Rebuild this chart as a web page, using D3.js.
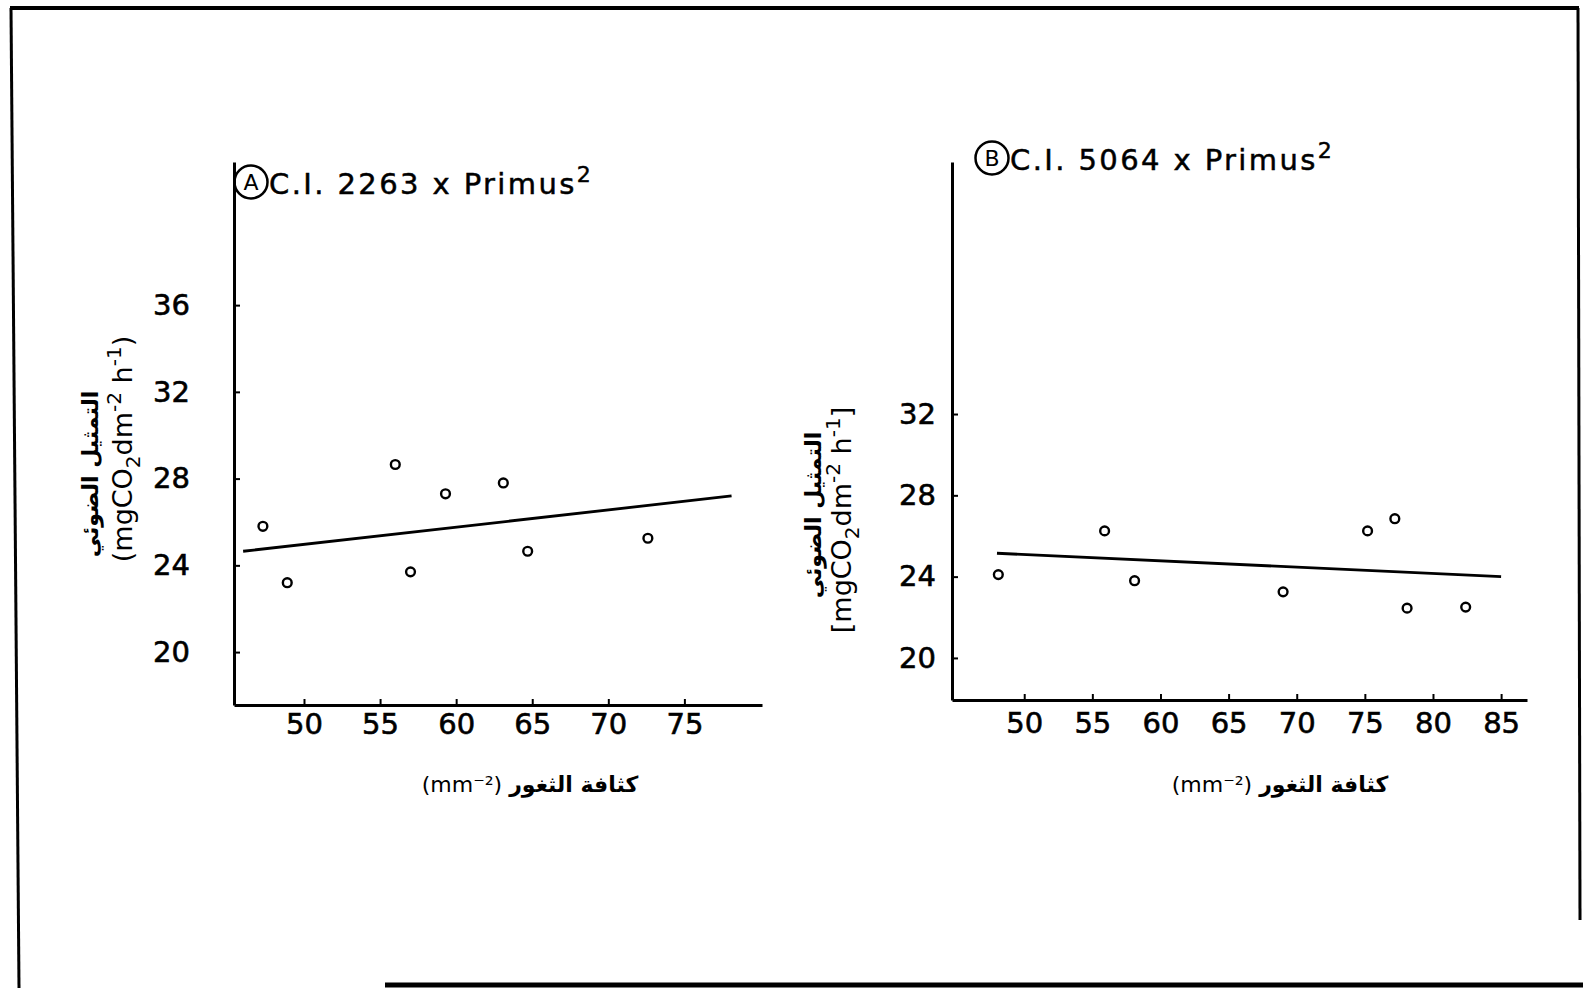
<!DOCTYPE html>
<html><head><meta charset="utf-8">
<script src="https://cdn.jsdelivr.net/npm/d3@7"></script>
<style>
html,body{margin:0;padding:0;background:#fff;}
svg{display:block;}
text{font-family:"DejaVu Sans",sans-serif;fill:#000;}
</style></head>
<body>
<svg id="chart" width="1583" height="988"></svg>
<script>
// ---- Panel A data ----
const titleA = "C.I. 2263 x Primus";
const xTicksA = [50, 55, 60, 65, 70, 75];
const yTicksA = [20, 24, 28, 32, 36];
const xA = [47.3, 48.9, 56.0, 57.0, 59.3, 63.1, 64.7, 72.6];
const yA = [25.8, 23.2, 28.65, 23.7, 27.3, 27.8, 24.65, 25.25];
const fitXA = [46.0, 78.1];
const fitYA = [24.65, 27.2];

// ---- Panel B data ----
const titleB = "C.I. 5064 x Primus";
const xTicksB = [50, 55, 60, 65, 70, 75, 80, 85];
const yTicksB = [20, 24, 28, 32];
const xB = [48.1, 55.9, 58.1, 69.0, 75.2, 77.2, 78.1, 82.4];
const yB = [24.1, 26.25, 23.8, 23.25, 26.25, 26.85, 22.45, 22.5];
const fitXB = [48.0, 85.0];
const fitYB = [25.15, 24.0];

// ---- Labels ----
const yLabelAr = "التمثيل الضوئي";
const xLabelAr = "كثافة الثغور";
const xLabelUnit = "(mm⁻²)";

const svg = d3.select("#chart");

// frame
const frame = svg.append("g").attr("fill","none").attr("stroke","#000");
frame.append("line").attr("x1",10).attr("y1",8).attr("x2",1579).attr("y2",8).attr("stroke-width",4);
frame.append("line").attr("x1",11).attr("y1",8).attr("x2",19).attr("y2",988).attr("stroke-width",3);
frame.append("line").attr("x1",1578).attr("y1",8).attr("x2",1580).attr("y2",920).attr("stroke-width",3);
frame.append("line").attr("x1",385).attr("y1",985).attr("x2",1583).attr("y2",985).attr("stroke-width",5);

function panel(cfg){
  const g = svg.append("g");
  const x = d3.scaleLinear().domain(cfg.xDom).range([cfg.left, cfg.right]);
  const y = d3.scaleLinear().domain(cfg.yDom).range([cfg.bottom, cfg.top]);

  // axes
  const ax = g.append("g").attr("transform",`translate(0,${cfg.bottom})`)
    .call(d3.axisBottom(x).tickValues(cfg.xTicks).tickSizeInner(-6).tickSizeOuter(0).tickPadding(cfg.xPad));
  const ay = g.append("g").attr("transform",`translate(${cfg.left},0)`)
    .call(d3.axisLeft(y).tickValues(cfg.yTicks).tickSizeInner(-6).tickSizeOuter(0).tickPadding(cfg.yPad));
  [ax, ay].forEach(a=>{
    a.select(".domain").attr("stroke","#000").attr("stroke-width",3);
    a.selectAll(".tick line").attr("stroke","#000").attr("stroke-width",2);
    a.selectAll(".tick text").attr("font-size",29).attr("fill","#000").attr("font-family","DejaVu Sans")
      .attr("stroke","#000").attr("stroke-width",0.6);
  });

  // fitted line
  const pts = cfg.fitX.map((v,i)=>[x(v), y(cfg.fitY[i])]);
  g.append("path").attr("d", d3.line()(pts)).attr("fill","none").attr("stroke","#000").attr("stroke-width",2.8);

  // points
  g.selectAll("circle.pt").data(cfg.xs.map((v,i)=>({x:v,y:cfg.ys[i]}))).enter()
    .append("circle").attr("class","pt")
    .attr("cx",d=>x(d.x)).attr("cy",d=>y(d.y)).attr("r",4.4)
    .attr("fill","#fff").attr("stroke","#000").attr("stroke-width",2.4);

  // title
  g.append("circle").attr("cx",cfg.tcx).attr("cy",cfg.tcy).attr("r",16.5)
    .attr("fill","none").attr("stroke","#000").attr("stroke-width",2.5);
  g.append("text").attr("x",cfg.tcx).attr("y",cfg.tcy+8).attr("text-anchor","middle")
    .attr("font-size",22).text(cfg.letter);
  const t = g.append("text").attr("x",cfg.tcx+18).attr("y",cfg.tcy+12)
    .attr("font-size",29).attr("letter-spacing",2.4).attr("stroke","#000").attr("stroke-width",0.5);
  t.append("tspan").text(cfg.title);
  t.append("tspan").attr("dy",-12).attr("font-size",22).text("2");

  // y label: arabic line
  g.append("text").attr("transform",`translate(${cfg.arX},${cfg.arY}) rotate(-90)`)
    .attr("text-anchor","middle").attr("font-size",22).attr("font-weight","bold")
    .text(yLabelAr);
  // y label: unit line
  const u = g.append("text").attr("transform",`translate(${cfg.uX},${cfg.uY}) rotate(-90)`)
    .attr("text-anchor","middle").attr("font-size",27);
  u.append("tspan").text(cfg.open + "mgCO");
  u.append("tspan").attr("dy",8).attr("font-size",20).text("2");
  u.append("tspan").attr("dy",-8).text("dm");
  u.append("tspan").attr("dy",-11).attr("font-size",20).text("-2");
  u.append("tspan").attr("dy",11).text(" h");
  u.append("tspan").attr("dy",-11).attr("font-size",20).text("-1");
  u.append("tspan").attr("dy",11).text(cfg.close);

  // x label
  const xl = g.append("text").attr("x",cfg.xlX).attr("y",cfg.xlY).attr("text-anchor","middle")
    .attr("direction","ltr").attr("font-size",22);
  xl.append("tspan").text(xLabelUnit + "  ");
  xl.append("tspan").attr("font-weight","bold").text(xLabelAr);
}

panel({
  xDom:[45.4, 80.1], yDom:[17.56, 42.6],
  left:234, right:762, top:162, bottom:705,
  xTicks:xTicksA, yTicks:yTicksA, xPad:8, yPad:44,
  xs:xA, ys:yA, fitX:fitXA, fitY:fitYA,
  tcx:251, tcy:182, letter:"A", title:titleA,
  arX:98, arY:474, uX:132, uY:449, open:"(", close:")",
  xlX:530, xlY:792
});

panel({
  xDom:[44.7, 86.9], yDom:[17.93, 44.4],
  left:952, right:1527, top:162, bottom:700,
  xTicks:xTicksB, yTicks:yTicksB, xPad:12, yPad:16,
  xs:xB, ys:yB, fitX:fitXB, fitY:fitYB,
  tcx:992, tcy:158, letter:"B", title:titleB,
  arX:821, arY:515, uX:851, uY:520, open:"[", close:"]",
  xlX:1280, xlY:792
});
</script>
</body></html>
